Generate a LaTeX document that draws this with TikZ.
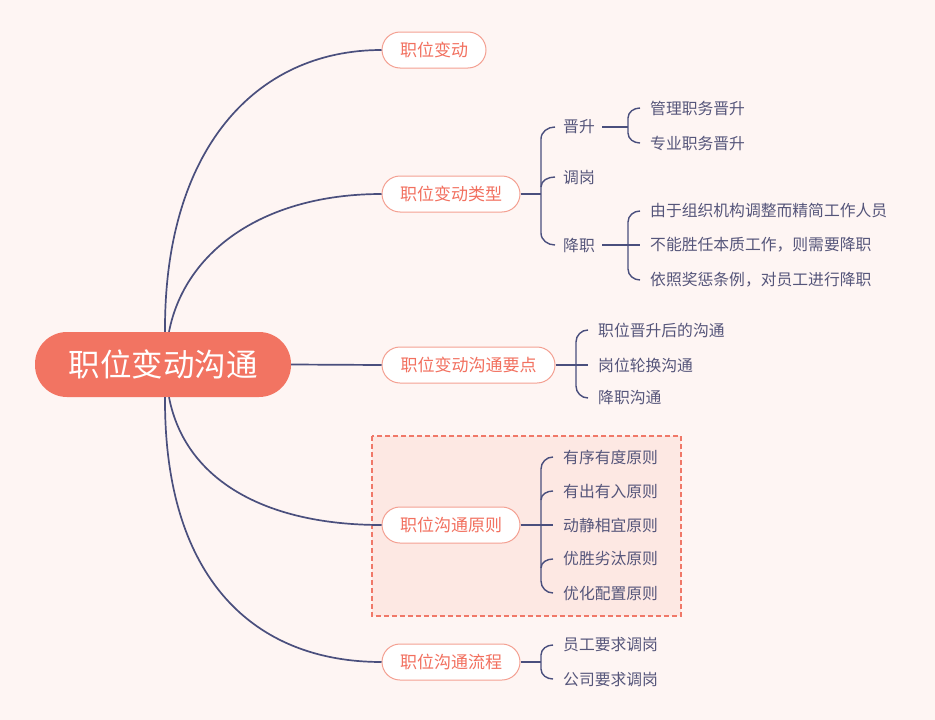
\documentclass[tikz,border=0pt]{standalone}
\usepackage{fontspec}
\setmainfont{Noto Sans CJK SC}
\begin{document}
\begin{tikzpicture}[x=1pt,y=-1pt,
  conn/.style={draw=connc,line width=1.4pt},
  mainconn/.style={draw=connc,line width=1.7pt},
  branch/.style={draw=nborder,line width=1pt,fill=white,rounded corners=18pt,minimum height=36pt,inner sep=0pt,text=ntext,font=\fontsize{17}{19}\selectfont},
  leaf/.style={anchor=west,inner sep=0pt,text=ctext,font=\fontsize{15.8}{18}\selectfont}]
\definecolor{bg}{HTML}{FEF5F3}
\definecolor{centralc}{HTML}{F27462}
\definecolor{nborder}{HTML}{F4A092}
\definecolor{ntext}{HTML}{F2705F}
\definecolor{connc}{HTML}{4A4F7D}
\definecolor{ctext}{HTML}{55557A}
\definecolor{boxfill}{HTML}{FDE8E3}
\definecolor{boxdraw}{HTML}{F07868}
\path[fill=bg] (0,0) rectangle (935,720);
\useasboundingbox (0,0) rectangle (935,720);
% dashed box
\path[fill=boxfill,draw=boxdraw,line width=1.5pt,dash pattern=on 5pt off 3pt] (372,436) rectangle (681,616);
% central
\node[fill=centralc,rounded corners=32pt,minimum width=256pt,minimum height=65pt,inner sep=0pt,text=white,font=\fontsize{31.5}{34}\selectfont] (c) at (163,364.5) {职位变动沟通};
% branches
\node[branch,minimum width=104pt] (n1) at (434,50) {职位变动};
\node[branch,minimum width=138pt] (n2) at (451,194) {职位变动类型};
\node[branch,minimum width=173pt] (n3) at (468.5,365) {职位变动沟通要点};
\node[branch,minimum width=138pt] (n4) at (451,525) {职位沟通原则};
\node[branch,minimum width=138pt] (n5) at (451,662) {职位沟通流程};
% main connectors
\draw[mainconn] ([xshift=2pt]c.north) .. controls (164,150) and (255,50) .. (n1.west);
\draw[mainconn] ([xshift=6pt]c.north) .. controls (185,250) and (265,194) .. (n2.west);
\draw[mainconn] (c.east) -- (n3.west);
\draw[mainconn] ([xshift=6pt]c.south) .. controls (185,480) and (265,525) .. (n4.west);
\draw[mainconn] ([xshift=2pt]c.south) .. controls (164,580) and (255,662) .. (n5.west);
% n2 children
\node[leaf] (b1) at (563,127) {晋升};
\node[leaf] (b2) at (563,177) {调岗};
\node[leaf] (b3) at (563,245) {降职};
\draw[conn] (n2.east) -- (541,194);
\draw[conn] ([xshift=-8pt]b1.west) to[out=180,in=90] (541,139) -- (541,233) to[out=-90,in=180] ([xshift=-8pt]b3.west);
\draw[conn] (541,187) to[out=90,in=180] ([xshift=-8pt]b2.west);
% 晋升 children
\node[leaf] (d1) at (650,108) {管理职务晋升};
\node[leaf] (d2) at (650,143) {专业职务晋升};
\draw[conn] ([xshift=7pt]b1.east) -- (628,127);
\draw[conn] ([xshift=-10pt]d1.west) to[out=180,in=90] (628,118) -- (628,133) to[out=-90,in=180] ([xshift=-10pt]d2.west);
% 降职 children
\node[leaf] (e1) at (650,211) {由于组织机构调整而精简工作人员};
\node[leaf] (e2) at (650,245) {不能胜任本质工作，则需要降职};
\node[leaf] (e3) at (650,280) {依照奖惩条例，对员工进行降职};
\draw[conn] ([xshift=7pt]b3.east) -- ([xshift=-10pt]e2.west);
\draw[conn] ([xshift=-10pt]e1.west) to[out=180,in=90] (628,222) -- (628,269) to[out=-90,in=180] ([xshift=-10pt]e3.west);
% n3 children
\node[leaf] (f1) at (598,330) {职位晋升后的沟通};
\node[leaf] (f2) at (598,365) {岗位轮换沟通};
\node[leaf] (f3) at (598,398) {降职沟通};
\draw[conn] (n3.east) -- ([xshift=-10pt]f2.west);
\draw[conn] ([xshift=-10pt]f1.west) to[out=180,in=90] (576,342) -- (576,386) to[out=-90,in=180] ([xshift=-10pt]f3.west);
% n4 children
\node[leaf] (g1) at (563,457) {有序有度原则};
\node[leaf] (g2) at (563,491) {有出有入原则};
\node[leaf] (g3) at (563,525) {动静相宜原则};
\node[leaf] (g4) at (563,559) {优胜劣汰原则};
\node[leaf] (g5) at (563,593) {优化配置原则};
\draw[conn] (n4.east) -- ([xshift=-10pt]g3.west);
\draw[conn] ([xshift=-10pt]g1.west) to[out=180,in=90] (541,469) -- (541,581) to[out=-90,in=180] ([xshift=-10pt]g5.west);
\draw[conn] (541,500) to[out=90,in=180] ([xshift=-10pt]g2.west);
\draw[conn] (541,568) to[out=90,in=180] ([xshift=-10pt]g4.west);
% n5 children
\node[leaf] (h1) at (563,645) {员工要求调岗};
\node[leaf] (h2) at (563,679) {公司要求调岗};
\draw[conn] (n5.east) -- (541,662);
\draw[conn] ([xshift=-10pt]h1.west) to[out=180,in=90] (541,655) -- (541,669) to[out=-90,in=180] ([xshift=-10pt]h2.west);
\end{tikzpicture}
\end{document}
